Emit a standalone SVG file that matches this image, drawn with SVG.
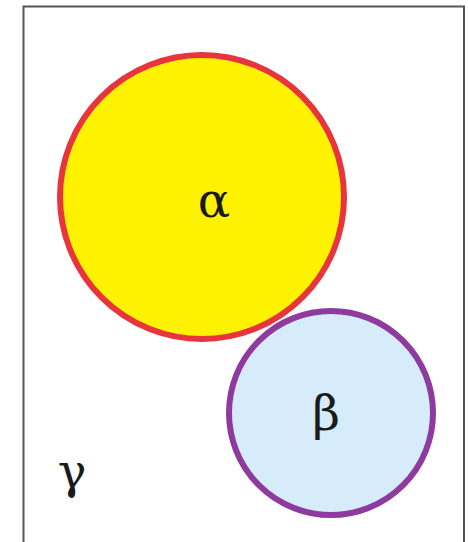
<svg xmlns="http://www.w3.org/2000/svg" width="468" height="542" viewBox="0 0 468 542">
<style>
.lbl{font-family:"DejaVu Serif","Liberation Serif",serif;font-size:48px;fill:#1a1a1a;text-anchor:middle}
</style>
<rect width="468" height="542" fill="#ffffff"/>
<rect x="23.5" y="6.5" width="440.5" height="540" fill="none" stroke="#555555" stroke-width="2"/>
<g id="alpha">
<circle cx="202" cy="197" r="142" fill="#fff200" stroke="#e8343c" stroke-width="6"/>
<text class="lbl" x="214" y="217">α</text>
</g>
<g id="beta">
<circle cx="331" cy="413" r="102" fill="#d6ecfa" stroke="#8e3a9e" stroke-width="6"/>
<text class="lbl" x="326" y="430">β</text>
</g>
<g id="gamma">
<text class="lbl" x="72" y="488">γ</text>
</g>
<g id="connectors"/>
</svg>
